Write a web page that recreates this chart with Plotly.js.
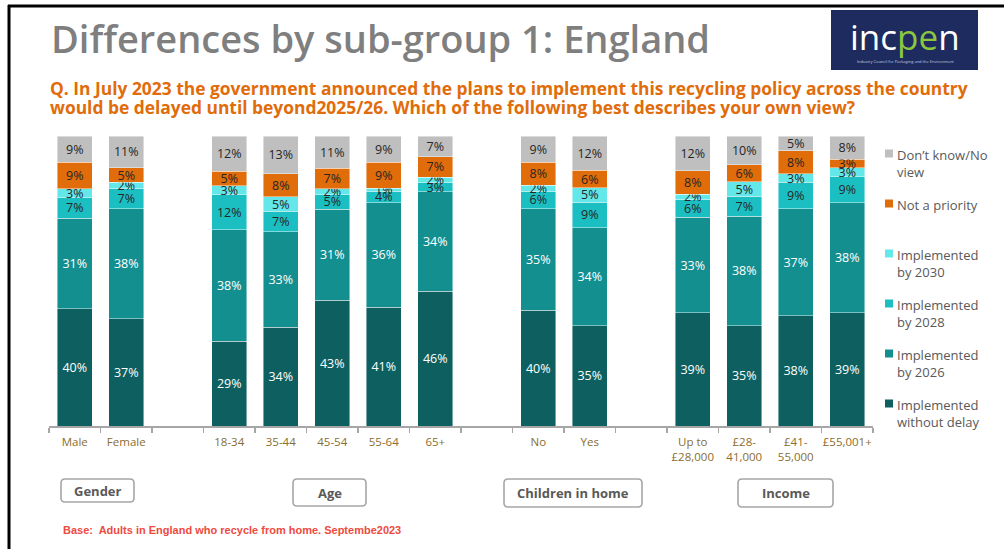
<!DOCTYPE html>
<html>
<head>
<meta charset="utf-8">
<script src="https://cdn.plot.ly/plotly-3.0.1.min.js"></script>
<style>
html,body{margin:0;padding:0;background:#fff;}
#chart{width:1004px;height:549px;}
</style>
</head>
<body>
<div id="chart"></div>
<script>
// ---------- DATA ----------
const groups = ['Gender', 'Age', 'Children in home', 'Income'];
const categories = ['Male', 'Female', '18-34', '35-44', '45-54', '55-64', '65+', 'No', 'Yes',
  'Up to<br>£28,000', '£28-<br>41,000', '£41-<br>55,000', '£55,001+'];
const categoryGroup = [0, 0, 1, 1, 1, 1, 1, 2, 2, 3, 3, 3, 3];

const seriesNames = ['Implemented<br>without delay', 'Implemented<br>by 2026', 'Implemented<br>by 2028',
  'Implemented<br>by 2030', 'Not a priority', 'Don’t know/No<br>view'];
const withoutDelay = [40, 37, 29, 34, 43, 41, 46, 40, 35, 39, 35, 38, 39];
const by2026       = [31, 38, 38, 33, 31, 36, 34, 35, 34, 33, 38, 37, 38];
const by2028       = [7, 7, 12, 7, 5, 4, 3, 6, 9, 6, 7, 9, 9];
const by2030       = [3, 2, 3, 5, 2, 1, 2, 2, 5, 2, 5, 3, 3];
const notPriority  = [9, 5, 5, 8, 7, 9, 7, 8, 6, 8, 6, 8, 3];
const dontKnow     = [9, 11, 12, 13, 11, 9, 7, 9, 12, 12, 10, 5, 8];

const titleText = 'Differences by sub-group 1: England';
const questionLines = [
  'Q. In July 2023 the government announced the plans to implement this recycling policy across the country',
  'would be delayed until beyond2025/26. Which of the following best describes your own view?'
];
const baseText = 'Base:  Adults in England who recycle from home. Septembe2023';

// ---------- STYLE ----------
const seriesValues = [withoutDelay, by2026, by2028, by2030, notPriority, dontKnow];
const seriesColors = ['#0e5f5f', '#148f90', '#1bbfc2', '#63e7e9', '#e06c0a', '#bfbfbf'];
const labelColors = ['#ffffff', '#ffffff', '#262626', '#262626', '#262626', '#262626'];
const FONT = 'Open Sans, Noto Sans, sans-serif';

// slot position of each category: one empty slot between groups
const xpos = categories.map((c, i) => i + categoryGroup[i]);

// pixel -> paper helpers
const L = 49, R = 873, T = 136, B = 426;
const px = x => (x - L) / (R - L);
const py = y => (B - y) / (B - T);

const traces = seriesValues.map((vals, s) => ({
  type: 'bar',
  name: seriesNames[s],
  x: xpos,
  y: vals,
  width: 0.68,
  text: vals.map(v => v + '%'),
  textposition: 'inside',
  insidetextanchor: 'middle',
  textangle: 0,
  constraintext: 'none',
  textfont: {family: FONT, size: 12.5, color: labelColors[s]},
  marker: {color: seriesColors[s], line: {color: 'rgba(255,255,255,0.55)', width: 0.8}},
  hoverinfo: 'skip',
  showlegend: false
}));

const shapes = [];
const annotations = [];

// frame lines
shapes.push({type: 'line', xref: 'paper', yref: 'paper', x0: px(8), x1: px(1004), y0: py(6), y1: py(6), line: {color: '#000', width: 3}});
shapes.push({type: 'line', xref: 'paper', yref: 'paper', x0: px(9), x1: px(9), y0: py(5), y1: py(549), line: {color: '#000', width: 3}});

// title + question
annotations.push({xref: 'paper', yref: 'paper', x: px(49), y: py(38), xanchor: 'left', yanchor: 'middle',
  text: titleText, showarrow: false, font: {family: FONT, size: 38, color: '#7f7f7f', weight: 600}});
const qY = [88, 107];
questionLines.forEach((q, i) => {
  annotations.push({xref: 'paper', yref: 'paper', x: px(48), y: py(qY[i]), xanchor: 'left', yanchor: 'middle', align: 'left',
    text: q, showarrow: false, font: {family: FONT, size: 17.4, color: '#e06c0a', weight: 700}});
});

// logo
shapes.push({type: 'rect', xref: 'paper', yref: 'paper', x0: px(831), x1: px(978), y0: py(10), y1: py(70),
  fillcolor: '#1d2b5e', line: {width: 0}});
annotations.push({xref: 'paper', yref: 'paper', x: px(905), y: py(36), xanchor: 'center', yanchor: 'middle',
  text: 'inc<span style="color:#8cc63f">pe</span>n', showarrow: false, font: {family: FONT, size: 35, color: '#ffffff'}});
annotations.push({xref: 'paper', yref: 'paper', x: px(905), y: py(61), xanchor: 'center', yanchor: 'middle',
  text: 'Industry Council for Packaging and the Environment', showarrow: false, font: {family: FONT, size: 4, color: '#c8cbe0'}});

// legend (top entry first)
const legendY = [144, 194, 244, 294, 344, 394];
for (let k = 0; k < 6; k++) {
  const s = 5 - k;
  const yc = legendY[k] + 9.5;
  shapes.push({type: 'rect', xref: 'paper', yref: 'paper', x0: px(885), x1: px(893), y0: py(yc - 4), y1: py(yc + 4),
    fillcolor: seriesColors[s], line: {width: 0}});
  annotations.push({xref: 'paper', yref: 'paper', x: px(895), y: py(legendY[k]), xanchor: 'left', yanchor: 'top', align: 'left',
    text: seriesNames[s], showarrow: false, font: {family: FONT, size: 13, color: '#595959'}});
}

// group boxes
const boxes = [[61, 134, 479, 502], [293, 366, 479, 506], [504, 642, 479, 507], [738, 833, 479, 507]];
function roundRect(x0, x1, y0, y1, r) {
  const p = (x, y) => px(x) + ',' + py(y);
  return 'M' + p(x0 + r, y0) + ' L' + p(x1 - r, y0) + ' Q' + p(x1, y0) + ' ' + p(x1, y0 + r) +
    ' L' + p(x1, y1 - r) + ' Q' + p(x1, y1) + ' ' + p(x1 - r, y1) +
    ' L' + p(x0 + r, y1) + ' Q' + p(x0, y1) + ' ' + p(x0, y1 - r) +
    ' L' + p(x0, y0 + r) + ' Q' + p(x0, y0) + ' ' + p(x0 + r, y0) + ' Z';
}
groups.forEach((g, i) => {
  const b = boxes[i];
  shapes.push({type: 'path', xref: 'paper', yref: 'paper', path: roundRect(b[0], b[1], b[2], b[3], 4),
    fillcolor: '#ffffff', line: {color: '#a6a6a6', width: 1.6}});
  annotations.push({xref: 'paper', yref: 'paper', x: px((b[0] + b[1]) / 2), y: py((b[2] + b[3]) / 2), xanchor: 'center', yanchor: 'middle',
    text: g, showarrow: false, font: {family: FONT, size: 13, color: '#595959', weight: 700}});
});

// base note
annotations.push({xref: 'paper', yref: 'paper', x: px(61), y: py(530), xanchor: 'left', yanchor: 'middle',
  text: baseText, showarrow: false, font: {family: 'Liberation Sans, Arial, sans-serif', size: 11, color: '#ef4a3e', weight: 700}});

const layout = {
  width: 1004, height: 549,
  margin: {l: L, r: 1004 - R, t: T, b: 549 - B, pad: 0},
  paper_bgcolor: '#ffffff', plot_bgcolor: '#ffffff',
  barmode: 'stack', barnorm: 'percent',
  showlegend: false,
  uniformtext: {mode: 'show', minsize: 12.5},
  xaxis: {
    range: [-0.5, 15.5], fixedrange: true, showgrid: false, zeroline: false,
    showline: true, linecolor: '#a6a6a6', linewidth: 1.5,
    tickmode: 'array', tickvals: xpos, ticktext: categories, ticks: '',
    ticklabelstandoff: 5,
    tickfont: {family: FONT, size: 11.5, color: '#8a6d2f'},
    minor: {ticks: 'outside', tickmode: 'linear', tick0: -0.5, dtick: 1, ticklen: 5, tickcolor: '#a6a6a6', tickwidth: 1.5, showgrid: false}
  },
  yaxis: {range: [0, 100], visible: false, fixedrange: true},
  shapes: shapes,
  annotations: annotations,
  font: {family: FONT}
};

Plotly.newPlot('chart', traces, layout, {displayModeBar: false, staticPlot: true});
</script>
</body>
</html>
